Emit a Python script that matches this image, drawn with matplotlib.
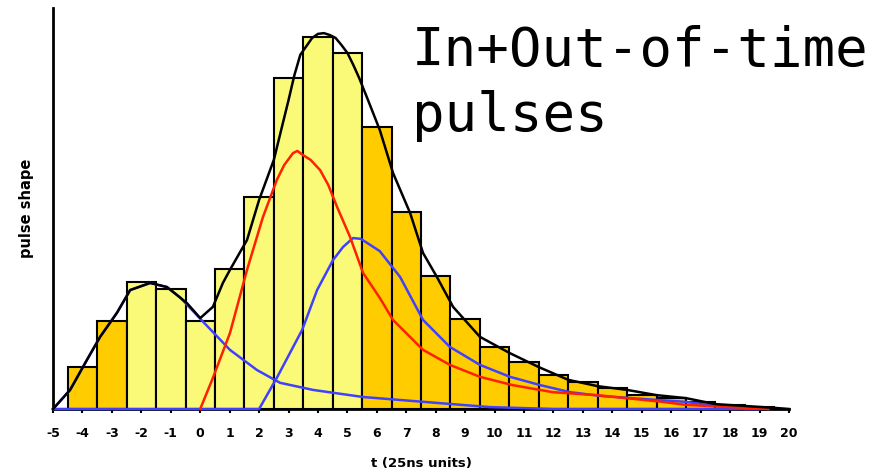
import numpy as np
import matplotlib
matplotlib.use("Agg")
import matplotlib.pyplot as plt

# binned pulse shape, one bin per 25 ns
bin_t = [-4, -3, -2, -1, 0, 1, 2, 3, 4, 5, 6, 7, 8, 9, 10, 11, 12, 13, 14, 15, 16, 17, 18, 19]
bin_h = [0.112, 0.235, 0.340, 0.321, 0.235, 0.374, 0.567, 0.885, 0.995, 0.952, 0.754, 0.527,
         0.356, 0.241, 0.166, 0.126, 0.091, 0.072, 0.056, 0.037, 0.029, 0.019, 0.011, 0.005]

# total shape (sum of pulses)
tot_t = [-5, -4.42, -3.85, -3.4, -2.83, -2.38, -1.7, -1.13, -0.45, 0.0, 0.43, 0.77, 1.01, 1.59,
         2.0, 2.5, 3.0, 3.2, 3.4, 3.8, 4.0, 4.2, 4.4, 4.6, 4.8, 5.0, 5.2, 5.4, 5.7, 6.1, 6.55, 7.13,
         7.57, 8.04, 8.59, 9.5, 10.5, 11.5, 12.5, 13.5, 14.5, 15.5, 16.5, 17.5, 18.5, 19.5, 20]
tot_y = [0.0, 0.051, 0.131, 0.193, 0.257, 0.318, 0.337, 0.326, 0.283, 0.243, 0.273, 0.337, 0.372, 0.452,
         0.559, 0.666, 0.826, 0.893, 0.947, 0.992, 1.003, 1.005, 1.0, 0.992, 0.973, 0.952, 0.920, 0.885,
         0.826, 0.746, 0.631, 0.524, 0.417, 0.353, 0.273, 0.193, 0.150, 0.112, 0.078, 0.061, 0.051,
         0.037, 0.029, 0.013, 0.008, 0.003, 0.0]

# in-time pulse
red_t = [0.0, 0.43, 1.01, 1.59, 2.13, 2.6, 2.85, 3.15, 3.3, 3.49, 3.75, 4.07, 4.35, 4.65, 5.09,
         5.53, 6.1, 6.55, 7.57, 8.48, 9.5, 10.6, 11.97, 13.48, 15.7, 16.5, 18.0, 19.3]
red_y = [0.0, 0.083, 0.203, 0.372, 0.513, 0.612, 0.652, 0.684, 0.690, 0.679, 0.666, 0.639, 0.599,
         0.540, 0.460, 0.364, 0.297, 0.238, 0.158, 0.118, 0.086, 0.064, 0.045, 0.037, 0.019, 0.011,
         0.005, 0.0]

# out-of-time pulse, early
early_t = [-5, -4.42, -3.85, -3.4, -2.83, -2.38, -1.7, -1.13, -0.69, 0.1, 1.01, 1.93, 2.71, 3.83,
           5.53, 6.8, 9.84, 12.0, 19.0]
early_y = [0.0, 0.051, 0.131, 0.193, 0.257, 0.318, 0.337, 0.326, 0.299, 0.233, 0.158, 0.104, 0.070,
           0.051, 0.032, 0.024, 0.005, 0.0, 0.0]

# out-of-time pulse, late
late_t = [-5, 2.0, 2.6, 3.46, 3.97, 4.51, 4.85, 5.19, 5.45, 5.67, 6.1, 6.79, 7.57, 8.48, 9.5,
          10.52, 11.54, 12.56, 13.58, 15.0, 16.5, 17.55, 18.5, 19.0]
late_y = [0.0, 0.0, 0.083, 0.211, 0.318, 0.398, 0.433, 0.457, 0.455, 0.444, 0.422, 0.353, 0.238,
          0.166, 0.118, 0.086, 0.064, 0.045, 0.035, 0.027, 0.019, 0.008, 0.0, 0.0]

xticks = list(range(-5, 21))

fig = plt.figure(figsize=(8.84, 4.75), dpi=100)
ax = fig.add_axes([0.060, 0.139, 0.8325, 0.844])

colors = ["#FAFA78" if -2 <= t <= 5 else "#FFCC00" for t in bin_t]
ax.bar(bin_t, bin_h, width=1.0, color=colors, edgecolor="black", linewidth=1.5, zorder=2)

ax.plot(early_t, early_y, color="#4040FF", lw=1.8, zorder=3, clip_on=False)
ax.plot(late_t, late_y, color="#4040FF", lw=1.8, zorder=3, clip_on=False)
ax.plot(red_t, red_y, color="#FF2000", lw=1.8, zorder=4, clip_on=False)
ax.plot(tot_t, tot_y, color="black", lw=1.8, zorder=5, clip_on=False)

ax.set_xlim(-5, 20)
ax.set_ylim(0, 1.072)
ax.set_xticks(xticks)
ax.set_xticklabels([str(t) for t in xticks], fontsize=9, fontweight="bold", family="DejaVu Sans")
ax.set_yticks([])
ax.tick_params(axis="x", direction="out", length=3, width=1.5, pad=10)
for side in ("top", "right"):
    ax.spines[side].set_visible(False)
ax.spines["left"].set_linewidth(2)
ax.spines["bottom"].set_linewidth(2)

ax.set_xlabel("t (25ns units)", fontsize=9.5, fontweight="bold", labelpad=12)
ax.set_ylabel("pulse shape", fontsize=10.5, fontweight="bold", labelpad=14)

fig.text(0.466, 0.948, "In+Out-of-time\npulses", fontsize=39, family="DejaVu Sans Mono",
         va="top", ha="left", linespacing=1.32)

fig.savefig("out.png", dpi=100)
